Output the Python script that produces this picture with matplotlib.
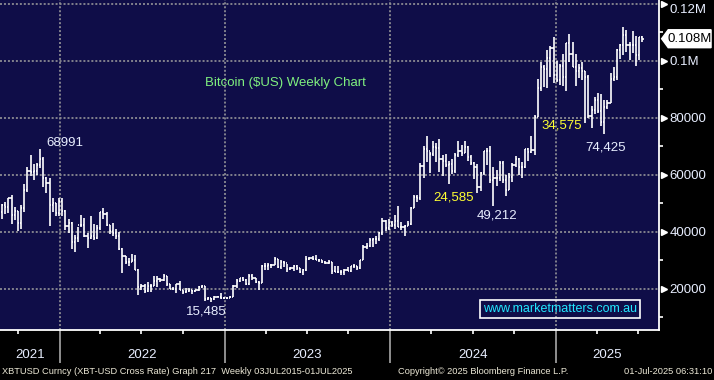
"""Bitcoin ($US) weekly bar chart, Bloomberg terminal style"""

from matplotlib import pyplot as plt
from matplotlib import dates as mdates
from matplotlib import transforms
from matplotlib.patches import Polygon
import numpy as np
import pandas as pd

plt.rcParams["font.family"] = ["Liberation Sans", "DejaVu Sans"]

# weekly bars, values in thousands of US$ (open = previous close)
first_bar = "2021-08-27"
first_open = 47.0
highs = [
    49.7, 50.5, 51.9, 52.9, 48.8, 47.4, 49.3, 56.6, 62.9, 67.0, 63.7, 64.2,
    69.0, 66.4, 59.2, 59.0, 51.9, 50.0, 51.9, 52.0,
    47.5, 44.4, 43.5, 38.9, 41.8, 45.8, 44.7, 39.5, 45.4, 42.6, 42.3, 46.9,
    48.2, 47.0, 42.4, 42.9, 40.8, 40.0, 34.2, 31.3, 30.6, 32.2, 31.7, 26.8,
    21.8, 21.5, 22.4, 21.6, 24.3, 24.6, 23.6, 25.2, 24.4, 21.8, 20.5, 21.8,
    22.7, 19.7, 20.3, 20.4, 19.5, 19.6, 21.0, 21.4, 21.0, 17.2, 16.8, 17.4,
    17.4, 18.4, 17.0, 16.9,
    17.3, 21.4, 23.4, 23.8, 24.2, 23.4, 25.2, 25.0, 23.9, 22.6, 28.4, 28.9,
    29.1, 28.7, 31.0, 30.4, 30.0, 29.8, 28.8, 27.6, 28.2, 28.4, 27.4, 26.8,
    31.4, 31.0, 31.4, 31.8, 30.3, 29.9, 29.7, 30.2, 29.5, 28.1, 28.1, 26.4,
    26.8, 27.5, 28.0, 28.6, 28.0, 30.0, 35.2, 35.9, 37.9, 37.9, 38.4, 40.0,
    44.7, 44.0, 44.3, 43.8,
    45.9, 49.0, 43.5, 42.3, 43.9, 48.6, 52.8, 52.9, 64.0, 70.1, 73.8, 68.1,
    71.7, 71.3, 72.7, 66.9, 67.2, 64.7, 65.5, 67.7, 71.9, 70.6, 71.9, 70.2,
    67.0, 64.5, 63.8, 61.0, 68.4, 69.4, 70.0, 62.7, 61.8, 65.0, 64.8, 59.8,
    60.6, 64.1, 66.5, 66.0, 64.5, 69.0, 69.5, 73.6, 81.0, 93.5, 99.6, 98.7,
    103.9, 105.2, 108.3, 99.9, 99.0,
    102.5, 106.4, 109.6, 106.5, 102.5, 98.8, 99.5, 96.5, 95.0, 84.0, 87.5,
    88.8, 88.5, 86.1, 86.4, 95.8, 97.9, 104.1, 105.8, 111.9, 110.7, 106.8,
    110.4, 108.9, 108.5, 108.8,
]
lows = [
    44.4, 46.4, 46.6, 42.8, 44.0, 40.2, 40.8, 46.9, 53.9, 59.5, 58.0, 59.8,
    62.3, 55.6, 53.5, 42.0, 47.1, 45.5, 45.6, 45.7,
    40.6, 39.6, 34.0, 32.9, 36.3, 41.7, 38.0, 34.3, 37.5, 37.2, 37.6, 40.5,
    44.3, 42.1, 39.2, 38.5, 37.6, 33.7, 25.4, 28.7, 28.0, 29.2, 26.5, 17.6,
    19.6, 18.6, 19.0, 18.9, 20.8, 20.7, 22.4, 22.7, 20.8, 19.8, 19.6, 18.6,
    19.4, 18.2, 18.5, 19.0, 18.2, 18.9, 19.3, 20.1, 15.6, 15.9, 15.485, 16.0,
    16.9, 16.4, 16.4, 16.4,
    16.6, 17.2, 20.4, 22.3, 22.6, 21.4, 21.4, 23.2, 21.9, 19.6, 21.9, 26.6,
    26.6, 27.3, 28.2, 27.1, 26.9, 27.7, 25.8, 26.4, 26.1, 26.6, 25.4, 24.8,
    26.3, 29.9, 29.9, 29.9, 29.5, 28.9, 28.6, 28.7, 25.2, 25.8, 25.4, 24.9,
    24.9, 26.1, 26.0, 27.2, 26.5, 26.9, 29.9, 33.9, 34.5, 34.7, 35.7, 36.9,
    39.0, 40.2, 40.6, 41.6,
    40.8, 41.5, 40.6, 38.5, 41.9, 42.3, 48.2, 50.6, 51.0, 59.0, 64.5, 60.8,
    66.7, 64.5, 61.0, 59.7, 62.8, 56.6, 60.2, 60.8, 66.4, 66.7, 67.6, 65.0,
    63.4, 58.5, 53.5, 54.3, 59.9, 63.5, 57.2, 49.212, 56.1, 57.9, 57.2, 52.6,
    54.6, 57.5, 62.7, 59.8, 58.9, 62.4, 65.0, 67.5, 66.8, 80.2, 89.4, 90.8,
    90.5, 94.2, 92.2, 92.6, 91.5,
    91.2, 89.3, 99.5, 97.8, 91.2, 94.1, 93.4, 78.2, 80.0, 76.6, 81.2,
    81.6, 77.1, 74.425, 83.0, 85.1, 92.8, 93.4, 100.7, 102.0, 103.1, 100.4,
    102.7, 98.2, 100.4, 106.8,
]
closes = [
    49.3, 48.8, 51.8, 46.0, 47.3, 43.2, 48.2, 54.7, 61.5, 61.1, 61.3, 63.3,
    65.5, 58.7, 57.2, 49.4, 50.1, 46.7, 50.8, 47.3,
    41.9, 43.1, 36.3, 37.9, 42.4, 42.2, 38.4, 37.7, 38.4, 37.8, 41.3, 46.8,
    46.4, 42.2, 40.4, 39.5, 38.5, 34.1, 31.3, 29.4, 29.4, 29.9, 26.6, 20.6,
    21.0, 19.3, 20.8, 20.8, 22.6, 23.3, 23.2, 24.3, 21.5, 20.0, 19.8, 21.8,
    19.4, 18.8, 19.3, 19.4, 19.2, 19.6, 20.6, 20.9, 16.3, 16.7, 16.5, 17.1,
    17.1, 16.8, 16.8, 16.6,
    17.2, 20.9, 22.7, 23.7, 22.9, 21.8, 24.6, 23.6, 22.4, 22.1, 28.0, 27.9,
    28.4, 28.3, 30.3, 27.6, 29.2, 28.9, 26.9, 27.1, 28.1, 27.2, 25.9, 26.5,
    30.5, 30.6, 30.3, 30.2, 29.9, 29.2, 29.1, 29.4, 26.1, 26.0, 25.8, 25.8,
    26.5, 26.2, 27.9, 27.9, 27.1, 30.0, 34.5, 35.0, 37.1, 37.4, 37.5, 39.5,
    43.8, 41.4, 43.0, 42.3,
    43.9, 41.8, 41.6, 42.0, 42.6, 48.3, 52.1, 51.7, 63.1, 69.0, 68.4, 67.2,
    69.7, 69.4, 65.7, 64.9, 63.4, 63.8, 61.4, 66.9, 68.5, 67.8, 69.6, 66.2,
    64.2, 62.7, 55.8, 60.8, 68.2, 68.3, 58.2, 58.7, 58.9, 64.2, 58.0, 54.8,
    59.1, 63.6, 65.6, 62.8, 62.8, 69.0, 67.9, 68.7, 80.4, 90.6, 98.0, 97.2,
    101.2, 104.5, 95.2, 93.4, 98.3,
    94.5, 106.2, 102.6, 97.7, 96.5, 97.5, 96.3, 94.3, 80.7, 82.6, 86.1,
    82.4, 78.4, 83.7, 85.2, 93.8, 94.3, 104.0, 105.6, 109.0, 105.7, 105.7,
    105.5, 102.2, 108.4, 107.8,
]

year_starts = ["2022-01-01", "2023-01-01", "2024-01-01", "2025-01-01"]
year_labels = ["2021", "2022", "2023", "2024", "2025"]
price_ticks = [20000, 40000, 60000, 80000, 100000, 120000]
minor_ticks = [10000, 30000, 50000, 70000, 90000, 110000]

# text, x, y (axes fraction), colour
notes = [
    ("68991", 0.098, 0.567, "#e8eeff"),
    ("15,485", 0.313, 0.055, "#e8eeff"),
    ("24,585", 0.689, 0.403, "#ffff33"),
    ("49,212", 0.7535, 0.348, "#e8eeff"),
    ("34,575", 0.853, 0.621, "#ffff33"),
    ("74,425", 0.9195, 0.552, "#e8eeff"),
]

NAVY = "#0f0d48"
GRID = "#8a8a92"


def price_label(v):
    """Bloomberg style axis label"""
    if v >= 100000:
        return f"{v / 1e6:g}M"
    return str(int(v))


fig = plt.figure(figsize=(7.14, 3.8), dpi=100, facecolor="black")
ax = fig.add_axes([0, 50 / 380, 659 / 714, 330 / 380])
ax.set_facecolor(NAVY)

dates = pd.date_range(first_bar, periods=len(closes), freq="7D")
x = mdates.date2num(dates)
hi = np.array(highs) * 1000
lo = np.array(lows) * 1000
cl = np.array(closes) * 1000
op = np.concatenate([[first_open * 1000], cl[:-1]])

xmin = mdates.date2num(pd.Timestamp("2021-08-22 14:00"))
xmax = mdates.date2num(pd.Timestamp("2025-08-16 19:00"))
ax.set_xlim(xmin, xmax)
ax.set_ylim(5480, 121400)

# grid
for p in price_ticks:
    ax.axhline(p, color=GRID, lw=1.3, dashes=(1.1, 1.1), zorder=1)
ys = mdates.date2num(pd.to_datetime(year_starts))
for yx in ys:
    ax.axvline(yx, color=GRID, lw=1.3, dashes=(1.1, 1.1), zorder=1)

# OHLC bars
ax.vlines(x, lo, hi, color="white", lw=1.2, zorder=3)
ax.hlines(op, x - 2.6, x, color="white", lw=1.2, zorder=3)
ax.hlines(cl, x, x + 2.6, color="white", lw=1.2, zorder=3)

# spines
for s in ["top", "left"]:
    ax.spines[s].set_visible(False)
for s in ["right", "bottom"]:
    ax.spines[s].set_color("white")
    ax.spines[s].set_linewidth(1.3)

# x axis: year separators and quarter ticks
quarters = pd.date_range("2021-10-01", "2025-07-01", freq="QS")
quarters = [q for q in quarters if q.month != 1]
ax.set_xticks(ys)
ax.set_xticks(mdates.date2num(quarters), minor=True)
ax.tick_params(axis="x", which="major", length=24, width=1.3,
               color="#9a9a9a", labelbottom=False)
ax.tick_params(axis="x", which="minor", length=3, width=1.2,
               color="white", labelbottom=False)

edges = [xmin] + list(ys) + [xmax]
xt = transforms.blended_transform_factory(ax.transData, ax.transAxes)
for i, lab in enumerate(year_labels):
    ax.text((edges[i] + edges[i + 1]) / 2, -0.076, lab, transform=xt,
            ha="center", va="center", color="#e8eeff", fontsize=9.5)

# y axis on the right
ax.yaxis.tick_right()
ax.set_yticks(price_ticks)
ax.set_yticklabels([price_label(p) for p in price_ticks])
ax.set_yticks(minor_ticks, minor=True)
ax.tick_params(axis="y", which="major", length=0, pad=7.5,
               labelcolor="#e8eeff", labelsize=9.5)
ax.tick_params(axis="y", which="minor", length=3, width=1.2, color="white")
for lab in ax.get_yticklabels():
    if lab.get_text() == "0.12M":
        lab.set_va("top")

yt = transforms.blended_transform_factory(ax.transAxes, ax.transData)
ax.plot([1.0075] * len(price_ticks), price_ticks, ls="none", marker=">",
        ms=4.5, color="white", transform=yt, clip_on=False)

# last price tag
last = cl[-1]
half = 3150
tag = Polygon([(1.004, last), (1.014, last + half), (1.079, last + half),
               (1.079, last - half), (1.014, last - half)],
              closed=True, facecolor="white", edgecolor="white",
              transform=yt, clip_on=False, zorder=5)
ax.add_patch(tag)
ax.text(1.047, last, f"{last / 1e6:.3f}M", transform=yt, ha="center",
        va="center", color="black", fontsize=9.5, zorder=6, clip_on=False)

# annotations
ax.text(0.4325, 0.748, "Bitcoin ($US) Weekly Chart", transform=ax.transAxes,
        ha="center", va="center", color="#7ff07f", fontsize=9.5)
for txt, tx, ty, c in notes:
    ax.text(tx, ty, txt, transform=ax.transAxes, ha="center", va="center",
            color=c, fontsize=9.5)

ax.text(0.85, 0.064, "www.marketmatters.com.au", transform=ax.transAxes,
        ha="center", va="center", color="#22e8ff", fontsize=9,
        bbox=dict(boxstyle="square,pad=0.22", facecolor="none",
                  edgecolor="white", lw=1.2))

# footer
fig.text(2 / 714, 8 / 380,
         "XBTUSD Curncy (XBT-USD Cross Rate) Graph 217  Weekly 03JUL2015-01JUL2025",
         ha="left", va="center", color="#ece8d6", fontsize=6.7)
fig.text(398 / 714, 8 / 380, "Copyright\u00a9 2025 Bloomberg Finance L.P.",
         ha="left", va="center", color="#ece8d6", fontsize=6.7)
fig.text(712 / 714, 8 / 380, "01-Jul-2025 06:31:10",
         ha="right", va="center", color="#ece8d6", fontsize=6.7)

fig.savefig("out.png", dpi=100, facecolor="black")
